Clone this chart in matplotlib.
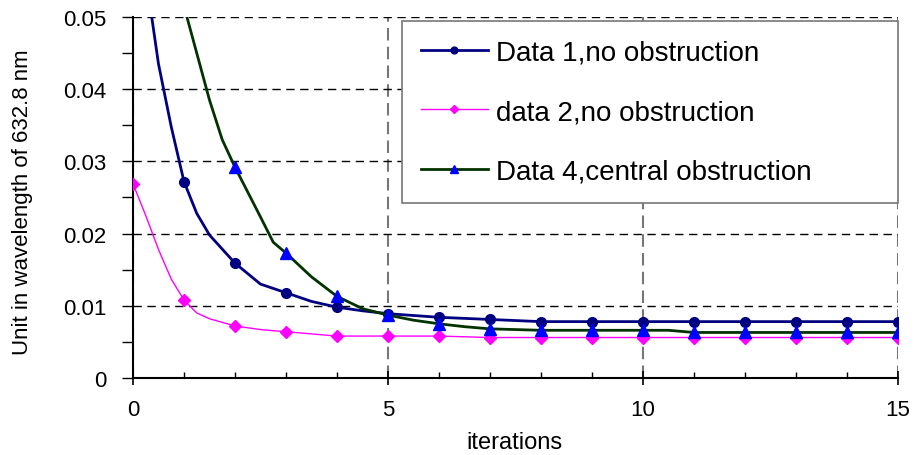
"""Convergence of wavefront error over iterations."""

import numpy as np
import matplotlib
matplotlib.use("Agg")
import matplotlib.pyplot as plt
from matplotlib.ticker import MultipleLocator, FuncFormatter

plt.rcParams["font.family"] = ["Liberation Sans", "DejaVu Sans"]

# data 1, no obstruction
x_data1 = [0, 0.5, 0.75, 1, 1.25, 1.5, 2, 2.5, 3, 3.5, 4, 4.5, 5, 6, 7,
           8, 9, 10, 11, 12, 13, 14, 15]
y_data1 = [0.068, 0.0435, 0.0348, 0.0272, 0.0228, 0.0198, 0.0159, 0.0130,
           0.0118, 0.0106, 0.0098, 0.0093, 0.0089, 0.0084, 0.0081,
           0.0078, 0.0078, 0.0078, 0.0078, 0.0078, 0.0078, 0.0078, 0.0078]

# data 2, no obstruction
x_data2 = [0, 0.25, 0.5, 0.75, 1, 1.25, 1.5, 2, 2.5, 3, 3.5, 4, 5, 6, 6.5,
           7, 8, 9, 10, 11, 12, 13, 14, 15]
y_data2 = [0.0269, 0.0225, 0.0178, 0.0137, 0.0108, 0.0090, 0.0082, 0.0072,
           0.0067, 0.0064, 0.0061, 0.0058, 0.0058, 0.0058, 0.0057,
           0.0056, 0.0056, 0.0056, 0.0056, 0.0056, 0.0056, 0.0056, 0.0056,
           0.0056]

# data 4, central obstruction
x_data4 = [1, 1.5, 1.75, 2, 2.5, 2.75, 3, 3.5, 4, 4.5, 5, 5.5, 6, 6.5, 7,
           7.5, 8, 9, 10, 10.5, 11, 12, 13, 14, 15]
y_data4 = [0.0515, 0.0385, 0.0330, 0.0292, 0.0223, 0.0188, 0.0173, 0.0140,
           0.0113, 0.0096, 0.0087, 0.0080, 0.0075, 0.0071, 0.0068,
           0.0067, 0.0066, 0.0066, 0.0066, 0.0066, 0.0063, 0.0063, 0.0063,
           0.0063, 0.0063]

labels = ["Data 1,no obstruction", "data 2,no obstruction",
          "Data 4,central obstruction"]


def _integer_mask(xs):
    xs = np.asarray(xs, dtype=float)
    return list(np.isclose(xs, np.round(xs)))


def _format_y(value, _):
    if abs(value) < 1e-9:
        return "0"
    return f"{value:.2f}"


fig = plt.figure(figsize=(9.14, 4.56), dpi=100, facecolor="white")
ax = fig.add_axes([0.1455, 0.169, 0.837, 0.7915])

ax.plot(x_data1, y_data1, color="#000080", linewidth=2, marker="o",
        markersize=7, markerfacecolor="#000080", markeredgecolor="#000080",
        markevery=_integer_mask(x_data1), label=labels[0], zorder=4)
ax.plot(x_data2, y_data2, color="#ff00ff", linewidth=1, marker="D",
        markersize=6.5, markerfacecolor="#ff00ff", markeredgecolor="#ff00ff",
        markevery=_integer_mask(x_data2), label=labels[1], zorder=3)
ax.plot(x_data4, y_data4, color="#003300", linewidth=2, marker="^",
        markersize=8, markerfacecolor="#0000ff", markeredgecolor="#0000ff",
        markevery=_integer_mask(x_data4), label=labels[2], zorder=5)

ax.set_xlim(0, 15)
ax.set_ylim(0, 0.05)
ax.xaxis.set_major_locator(MultipleLocator(5))
ax.xaxis.set_minor_locator(MultipleLocator(1))
ax.yaxis.set_major_locator(MultipleLocator(0.01))
ax.yaxis.set_minor_locator(MultipleLocator(0.005))
ax.yaxis.set_major_formatter(FuncFormatter(_format_y))

ax.tick_params(axis="x", which="major", direction="inout", length=10,
               width=1.2, labelsize=16, pad=10)
ax.tick_params(axis="x", which="minor", direction="in", length=4, width=1)
ax.tick_params(axis="y", which="both", direction="out", length=8, width=1,
               labelsize=16, pad=11)

ax.yaxis.grid(True, which="major", color="black", linestyle=(0, (6, 4)),
              linewidth=1)
ax.xaxis.grid(True, which="major", color="#777777", linestyle=(0, (6, 3)),
              linewidth=1.5)
ax.set_axisbelow(True)

for spine in ["top", "right"]:
    ax.spines[spine].set_visible(False)
for spine in ["left", "bottom"]:
    ax.spines[spine].set_linewidth(1.5)
    ax.spines[spine].set_color("black")

ax.set_xlabel("iterations", fontsize=17)
ax.xaxis.set_label_coords(0.498, -0.148)
ax.set_ylabel("Unit in wavelength of 632.8 nm", fontsize=16)
ax.yaxis.set_label_coords(-0.131, 0.49)

leg = ax.legend(loc="upper left", bbox_to_anchor=(0.3516, 0.0, 0.6484, 0.989),
                mode="expand", borderaxespad=0, fontsize=20, frameon=True,
                fancybox=False, handlelength=2.4, handletextpad=0.3,
                labelspacing=1.2, borderpad=0.68, markerscale=0.7,
                framealpha=1)
leg.get_frame().set_edgecolor("#777777")
leg.get_frame().set_linewidth(1.2)
leg.set_zorder(10)

fig.savefig("out.png", dpi=100, facecolor="white")
plt.close(fig)
